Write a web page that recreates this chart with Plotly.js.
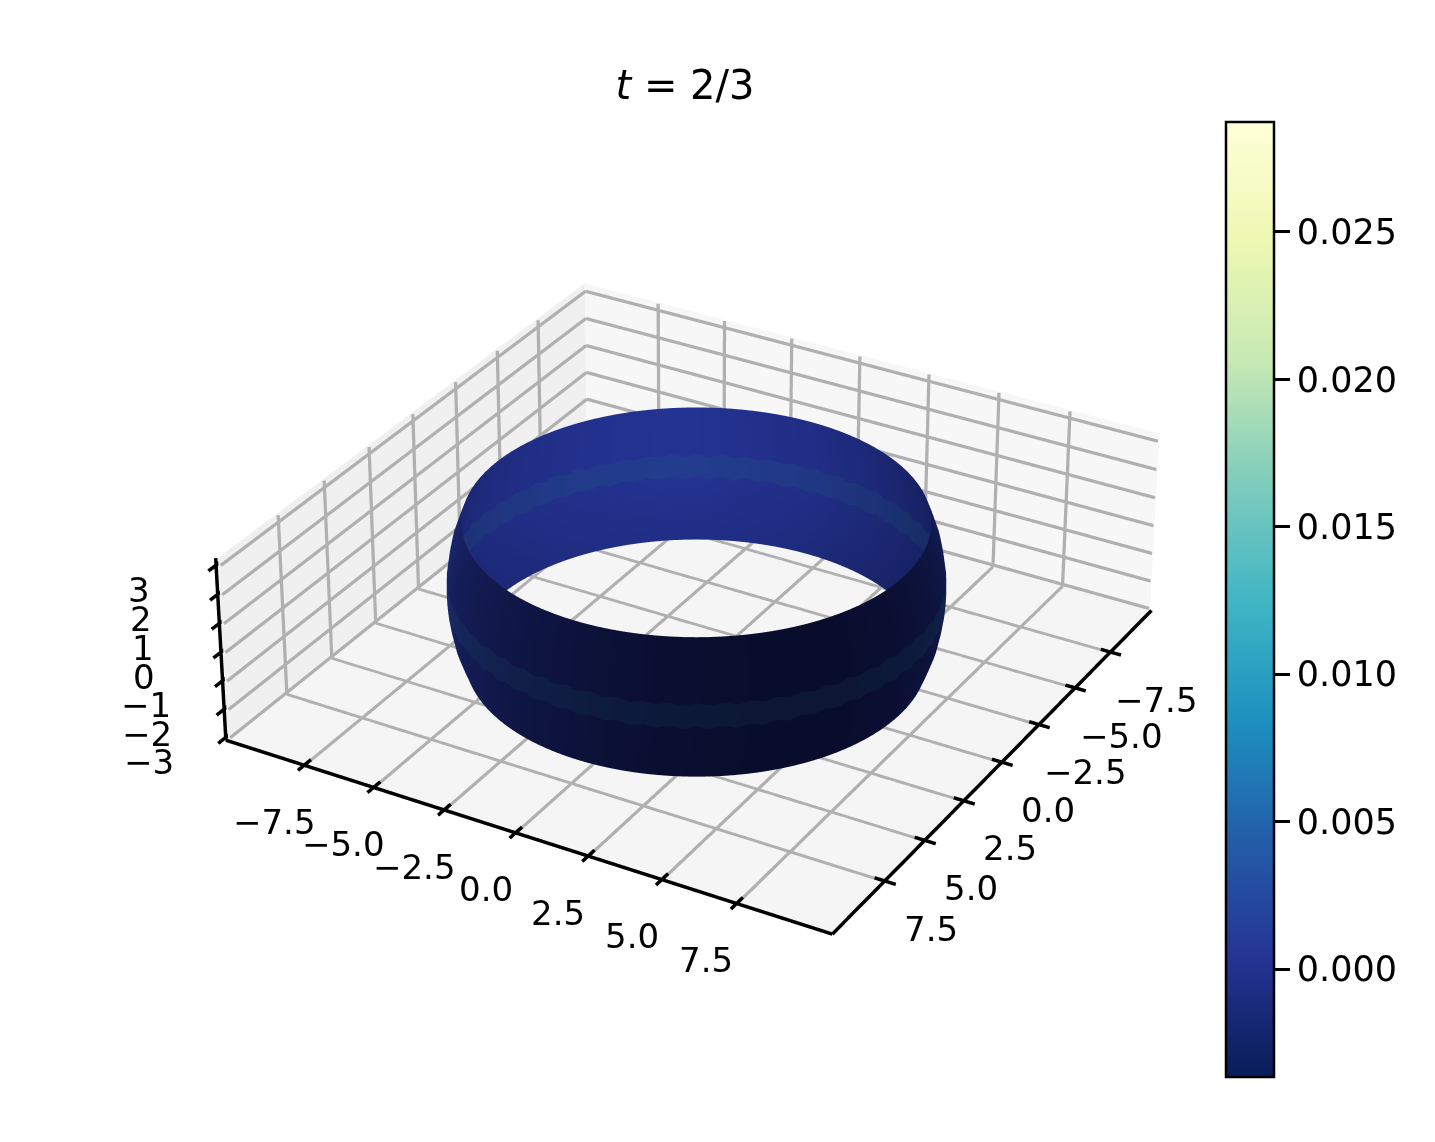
<!DOCTYPE html>
<html><head><meta charset="utf-8">
<script src="https://cdn.plot.ly/plotly-3.0.0.min.js"></script>
<style>html,body{margin:0;padding:0;width:1435px;height:1142px;overflow:hidden;background:#fff}#wrap{position:absolute;left:0;top:0}</style>
</head><body><div id="wrap"></div>
<script>
const thetaDeg=[0,3,6,9,12,15,18,21,24,27,30,33,36,39,42,45,48,51,54,57,60,63,66,69,72,75,78,81,84,87,90,93,96,99,102,105,108,111,114,117,120,123,126,129,132,135,138,141,144,147,150,153,156,159,162,165,168,171,174,177,180,183,186,189,192,195,198,201,204,207,210,213,216,219,222,225,228,231,234,237,240,243,246,249,252,255,258,261,264,267,270,273,276,279,282,285,288,291,294,297,300,303,306,309,312,315,318,321,324,327,330,333,336,339,342,345,348,351,354,357,360];
const shade=[.17,.15,.14,.12,.11,.10,.09,.08,.07,.06,.055,.05,.045,.04,.035,.03,.03,.025,.02,.02,.02,.025,.03,.04,.05,.06,.07,.08,.09,.10,.12,.14,.16,.18,.20,.22,.25,.27,.30,.32,.35,.38,.41,.43,.46,.49,.52,.54,.57,.59,.61,.64,.66,.68,.71,.73,.75,.77,.79,.82,.84,.85,.87,.88,.89,.90,.91,.92,.93,.94,.95,.95,.95,.95,.94,.94,.93,.93,.92,.92,.91,.90,.89,.88,.86,.85,.83,.82,.80,.79,.77,.75,.73,.72,.70,.68,.67,.65,.64,.62,.61,.58,.55,.53,.50,.47,.44,.42,.39,.37,.35,.33,.31,.29,.27,.25,.23,.21,.20,.18,.17];
const ripple=[
.05,-.05,.06,-.04,.05,-.06,.04,-.05,.06,-.05,
.05,-.04,.06,-.06,.05,-.05,.04,-.05,.06,-.04,
.05,-.06,.05,-.05,.04,-.05,.06,-.05,.05,-.04,
.06,-.06,.05,-.05,.04,-.05,.06,-.04,.05,-.06,
.05,-.05,.04,-.05,.06,-.05,.05,-.04,.06,-.06,
.05,-.05,.04,-.05,.06,-.04,.05,-.06,.05,-.05,
.04,-.05,.06,-.05,.05,-.04,.06,-.06,.05,-.05,
.04,-.05,.06,-.04,.05,-.06,.05,-.05,.04,-.05,
.06,-.05,.05,-.04,.06,-.06,.05,-.05,.04,-.05,
.06,-.04,.05,-.06,.05,-.05,.04,-.05,.06,-.05,
.05,-.04,.06,-.06,.05,-.05,.04,-.05,.06,-.04,
.05,-.06,.05,-.05,.04,-.05,.06,-.05,.05,-.04,
.05];
const lowerZ=[-2.4,-2,-1.5,-1,-.4], lowerR=[7.18,7.33,7.5,7.6,7.68], lowerGain=[.9,.92,.95,.97,1];
const bandZ=[-.4,0,.4], bandR=[7.68,7.69,7.68], bandGain=[1,1,1];
const upperZ=[.4,1,1.5,2,2.4], upperR=[7.68,7.6,7.5,7.33,7.18], upperGain=[1,1,1,1,1];
const axisTicks=[-7.5,-5,-2.5,0,2.5,5,7.5], axisText=['−7.5','−5.0','−2.5','0.0','2.5','5.0','7.5'];
const zTicks=[-3,-2,-1,0,1,2,3], zText=['−3','−2','−1','0','1','2','3'];
const cbTicks=[0,.005,.01,.015,.02,.025], cbRange=[-.00366,.02873];
const xRange=[-10.56,10.56], yRange=[-10.36,10.56], zRange=[-3.1,3.24];
const xySpan=[-11.28,11.28], zSpan=[-3.3,3.44];
const ylgnbuR=[[0,'#081d58'],[.125,'#253494'],[.25,'#225ea8'],[.375,'#1d91c0'],[.5,'#41b6c4'],[.625,'#7fcdbb'],[.75,'#c7e9b4'],[.875,'#edf8b1'],[1,'#ffffd9']];
const bandScale=[[0,'rgb(8,12,42)'],[1,'rgb(37,52,150)']], stripeScale=[[0,'rgb(10,22,50)'],[1,'rgb(36,62,146)']];
const W=1435,H=4090,offY=H/2-584;
document.getElementById('wrap').style.top=(-offY)+'px';
const flat={ambient:1,diffuse:0,specular:0,fresnel:0,roughness:1},noContours={x:{show:false},y:{show:false},z:{show:false}};
function part(zs,rs,gains,useRipple,scale){
  const x=[],y=[],z=[],c=[];
  zs.forEach((zv,i)=>{
    const edge=useRipple&&(i===useRipple.first||i===useRipple.last||useRipple.all);
    x.push(thetaDeg.map(t=>rs[i]*Math.cos(t*Math.PI/180)));
    y.push(thetaDeg.map(t=>rs[i]*Math.sin(t*Math.PI/180)));
    z.push(thetaDeg.map((t,j)=>zv+(edge?ripple[j]:0)));
    c.push(shade.map(s=>s*gains[i]));
  });
  return {type:'surface',x,y,z,surfacecolor:c,cmin:0,cmax:1,colorscale:scale,showscale:false,hoverinfo:'skip',lighting:flat,contours:noContours};
}
const [xl,xh]=xRange,[yl,yh]=yRange,[zl,zh]=zRange;
function pane(x,y,z,col){return {type:'surface',x,y,z,surfacecolor:[[0,0],[0,0]],cmin:0,cmax:1,colorscale:[[0,col],[1,col]],showscale:false,hoverinfo:'skip',lighting:flat,contours:noContours};}
const paneFloor=pane([[xl,xh],[xl,xh]],[[yl,yl],[yh,yh]],[[zl,zl],[zl,zl]],'#f5f5f5');
const paneRight=pane([[xl,xl],[xl,xl]],[[yl,yh],[yl,yh]],[[zl,zl],[zh,zh]],'#f7f7f7');
const paneLeft=pane([[xl,xh],[xl,xh]],[[yl,yl],[yl,yl]],[[zl,zl],[zh,zh]],'#f0f0f0');
const gx=[],gy=[],gz=[],kx=[],ky=[],kz=[];
const G=[gx,gy,gz],K=[kx,ky,kz];
function addG(p,q){G[0].push(p[0],q[0],null);G[1].push(p[1],q[1],null);G[2].push(p[2],q[2],null);}
function addK(p,q){K[0].push(p[0],q[0],null);K[1].push(p[1],q[1],null);K[2].push(p[2],q[2],null);}
const tickOut=.45,tickIn=.25,lift=.08,zlift=.03,gxl=xl+lift,gyl=yl+lift,gz0=zl+zlift,kz0=zl+.05,ex=xh+.05,ey=yh+.05,eyl=yl-.05;
axisTicks.forEach(t=>{
  addG([t,yh,gz0],[t,gyl,gz0]);addG([t,gyl,gz0],[t,gyl,zh]);
  addG([xh,t,gz0],[gxl,t,gz0]);addG([gxl,t,gz0],[gxl,t,zh]);
  addK([t,yh+tickOut,kz0],[t,yh-tickIn,kz0]);
  addK([xh+tickOut,t,kz0],[xh-tickIn,t,kz0]);
});
zTicks.forEach(t=>{
  addG([xh,gyl,t],[gxl,gyl,t]);addG([gxl,gyl,t],[gxl,yh,t]);
  addK([xh+tickOut,eyl,t],[xh-tickIn,eyl,t]);
});
addK([ex,eyl,zl],[ex,ey,zl]);addK([ex,ey,zl],[xl,ey,zl]);addK([ex,eyl,zl],[ex,eyl,zh]);
const gridTrace={type:'scatter3d',mode:'lines',x:gx,y:gy,z:gz,line:{color:'#b0b0b0',width:6.5},hoverinfo:'skip',showlegend:false,connectgaps:false};
const axisTrace={type:'scatter3d',mode:'lines',x:kx,y:ky,z:kz,line:{color:'#000',width:7},hoverinfo:'skip',showlegend:false,connectgaps:false};
const cbar={type:'scatter3d',mode:'markers',x:[0,0],y:[0,0],z:[0,0],hoverinfo:'skip',showlegend:false,
  marker:{size:1,opacity:0,color:cbRange,cmin:cbRange[0],cmax:cbRange[1],colorscale:ylgnbuR,showscale:true,
  colorbar:{lenmode:'pixels',len:955,thicknessmode:'pixels',thickness:48,x:1226/W,xanchor:'left',xpad:0,ypad:0,
    y:1-(122+offY)/H,yanchor:'top',outlinecolor:'#000',outlinewidth:2.5,ticks:'outside',ticklen:15,tickwidth:2.5,tickcolor:'#000',
    tickvals:cbTicks,tickformat:'.3f',tickfont:{family:'DejaVu Sans',size:35,color:'#000'}}}};
const font={family:'DejaVu Sans',size:34,color:'#000'};
const notes=[];
axisTicks.forEach((t,i)=>{
  notes.push({x:xh,y:t,z:zl,text:axisText[i],showarrow:false,xanchor:'center',yanchor:'middle',xshift:-32,yshift:-57,font});
  notes.push({x:t,y:yh,z:zl,text:axisText[i],showarrow:false,xanchor:'center',yanchor:'middle',xshift:49,yshift:-47,font});
});
zTicks.forEach((t,i)=>{
  notes.push({x:xh,y:yl,z:t,text:zText[i],showarrow:false,xanchor:'center',yanchor:'middle',xshift:-79,yshift:-25,font});
});
function ax(range){return {range,showgrid:false,zeroline:false,showline:false,ticks:'',showticklabels:false,
  showbackground:false,showspikes:false,title:{text:''}};}
const layout={width:W,height:H,margin:{l:0,r:0,t:0,b:0},paper_bgcolor:'#fff',showlegend:false,
  title:{text:'<i>t</i> = 2/3',x:685/W,xanchor:'center',xref:'paper',y:1-(85+offY)/H,yanchor:'middle',yref:'paper',font:{family:'DejaVu Sans',size:40,color:'#000'}},
  scene:{domain:{x:[0,.9706],y:[0,1]},aspectmode:'manual',aspectratio:{x:1.068,y:1.068,z:.321},annotations:notes,
    camera:{eye:{x:5.4,y:3.118,z:3.6},center:{x:0,y:0,z:0},up:{x:0,y:0,z:1},projection:{type:'perspective'}},
    xaxis:ax(xySpan),yaxis:ax(xySpan),zaxis:ax(zSpan)}};
Plotly.newPlot('wrap',[paneFloor,paneRight,paneLeft,gridTrace,axisTrace,part(lowerZ,lowerR,lowerGain,{last:4},bandScale),part(bandZ,bandR,bandGain,{all:true},stripeScale),part(upperZ,upperR,upperGain,{first:0},bandScale),cbar],layout,{displayModeBar:false,responsive:false});
</script></body></html>
